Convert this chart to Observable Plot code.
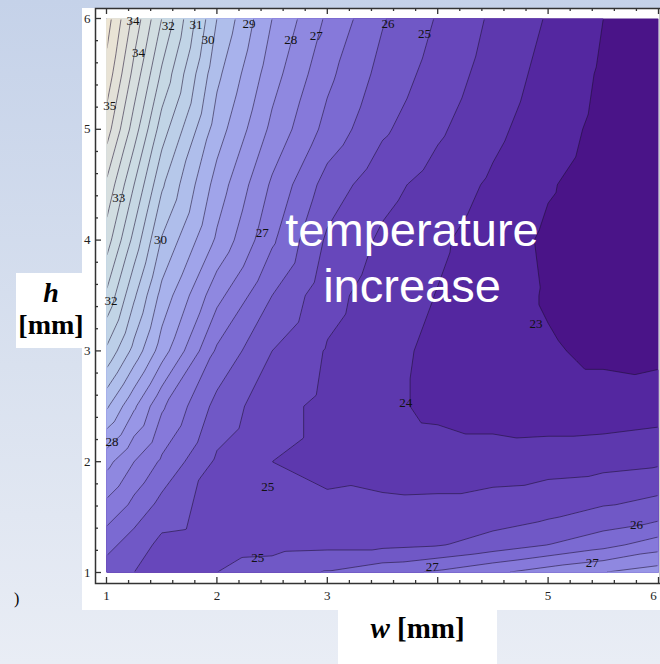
<!DOCTYPE html>
<html>
<head>
<meta charset="utf-8">
<script src="https://cdn.jsdelivr.net/npm/d3@7"></script>
<script src="https://cdn.jsdelivr.net/npm/@observablehq/plot@0.6"></script>
<style>
html, body { margin: 0; padding: 0; width: 660px; height: 664px; overflow: hidden; }
body { position: relative; background: linear-gradient(to bottom, #c5d2e9 0%, #d9e1ef 55%, #e9edf5 100%); }
#panel { position: absolute; left: 82px; top: 8px; width: 600px; height: 602px; background: #fff; }
#chart { position: absolute; left: 0; top: 0; width: 670px; }
#chart svg { max-width: none !important; }
#note { position: absolute; left: 262px; top: 202px; width: 300px; text-align: center; color: #fff;
  font-family: "Liberation Sans", Arial, sans-serif; font-size: 47px; line-height: 56px; }
#hlab { position: absolute; left: 16px; top: 273px; width: 66px; height: 75px; background: #fff; }
#hlab div { position: absolute; left: 0; width: 70px; text-align: center; font-family: "Liberation Serif", "Times New Roman", serif; font-weight: bold; font-size: 28px; color: #000; white-space: nowrap; }
#wlab { position: absolute; left: 338px; top: 610px; width: 159px; height: 54px; background: #fff; text-align: center;
  font-family: "Liberation Serif", "Times New Roman", serif; font-weight: bold; font-size: 29px; line-height: 36px; color: #000; }
#paren { position: absolute; left: 14px; top: 590px; font-family: "Liberation Serif", serif; font-size: 16px; color: #000; }
</style>
</head>
<body>
<div id="panel"></div>
<div id="chart"></div>
<div id="note">temperature<br>increase</div>
<div id="hlab"><div style="top:4px"><i>h</i></div><div style="top:36px">[mm]</div></div>
<div id="wlab"><i>w</i> [mm]</div>
<div id="paren">)</div>
<script>
// grid coordinates (mm)
const wValues = [1, 1.25, 1.5, 2, 2.5, 3, 3.5, 4, 4.5, 5, 5.5, 6];
const hValues = [6, 5.5, 5, 4.5, 4, 3.5, 3, 2.5, 2, 1.5, 1.25, 1];

// temperature, one row per h value
const tempH60  = [36.2, 34.5, 32.9, 29.9, 28.1, 26.8, 25.75, 25.05, 24.4, 23.85, 23.3, 23.0];
const tempH55  = [35.7, 33.9, 32.2, 29.45, 27.75, 26.45, 25.5, 24.85, 24.25, 23.7, 23.22, 22.95];
const tempH50  = [35.0, 33.2, 31.4, 29.0, 27.35, 26.1, 25.2, 24.6, 24.05, 23.55, 23.15, 22.92];
const tempH45  = [34.0, 32.3, 30.6, 28.45, 26.8, 25.45, 24.7, 24.25, 23.8, 23.35, 23.05, 22.92];
const tempH40  = [33.2, 31.5, 29.85, 28.0, 26.4, 25.0, 24.4, 24.0, 23.6, 23.2, 23.0, 22.95];
const tempH35  = [32.2, 30.6, 29.1, 27.1, 25.7, 24.7, 24.2, 23.88, 23.55, 23.25, 23.08, 23.02];
const tempH30  = [31.0, 29.7, 28.4, 26.2, 25.1, 24.45, 24.1, 23.75, 23.55, 23.35, 23.2, 23.15];
const tempH25  = [29.4, 28.2, 27.0, 25.5, 24.7, 24.35, 24.05, 23.75, 23.6, 23.5, 23.5, 23.6];
const tempH20  = [27.7, 26.9, 26.2, 25.0, 24.5, 24.35, 24.25, 24.2, 24.2, 24.24, 24.3, 24.4];
const tempH15  = [26.5, 25.9, 25.3, 24.9, 24.7, 24.65, 24.7, 24.72, 24.85, 25.05, 25.3, 25.55];
const tempH125 = [25.9, 25.4, 24.95, 24.85, 24.9, 24.95, 24.95, 25.05, 25.35, 25.7, 26.1, 26.6];
const tempH10  = [25.4, 25.1, 24.85, 25.1, 25.4, 25.75, 26.1, 26.4, 26.8, 27.2, 27.5, 27.8];
const tempRows = [tempH60, tempH55, tempH50, tempH45, tempH40, tempH35, tempH30, tempH25, tempH20, tempH15, tempH125, tempH10];

// contour levels and band colours
const levels = [22.7, 23.3, 23.9, 24.5, 25.1, 25.7, 26.3, 26.9, 27.5, 28.1, 28.7, 29.3, 29.9, 30.5, 31.1, 31.7, 32.3, 32.9, 33.5, 34.1, 34.7, 35.3, 35.9];
const bandColors = ["#4a1488", "#5427a0", "#5d38ae", "#6747bb", "#7058c6", "#7b6ad2", "#8679da", "#8f88e0", "#9896e6", "#a0a4ea", "#a8b2ec", "#afbeeb", "#b6c8ea", "#bccfe8", "#c1d4e6", "#c6d8e4", "#cbdbe3", "#d1dde1", "#d7dfdf", "#dde0dc", "#e3e1d8", "#e9e3d5", "#eee5d2"];

// contour labels as printed
const labelText = ["34", "32", "31", "30", "29", "28", "27", "26", "25", "34", "35", "33", "30", "27", "32", "23", "24", "28", "25", "25", "27", "27", "26"];
const labelW = [1.24, 1.56, 1.81, 1.92, 2.29, 2.67, 2.90, 3.55, 3.88, 1.29, 1.03, 1.11, 1.49, 2.41, 1.04, 4.89, 3.71, 1.05, 2.46, 2.37, 3.95, 5.40, 5.80];
const labelH = [5.98, 5.93, 5.94, 5.81, 5.95, 5.81, 5.84, 5.95, 5.86, 5.69, 5.21, 4.38, 4.00, 4.07, 3.45, 3.24, 2.53, 2.18, 1.77, 1.13, 1.05, 1.09, 1.43];

// ticks
const majorTicks = [1, 2, 3, 4, 5, 6];
const minorTicks = [1.2, 1.4, 1.6, 1.8, 2.2, 2.4, 2.6, 2.8, 3.2, 3.4, 3.6, 3.8, 4.2, 4.4, 4.6, 4.8, 5.2, 5.4, 5.6, 5.8];
const xTickLabels = [1, 2, 3, 5];
const xEdgeLabels = [6];
const yTickLabels = [1, 2, 3, 4, 5, 6];

const grid = hValues.flatMap((h, i) => wValues.map((w, j) => ({w, h, t: tempRows[i][j]})));
const labels = labelText.map((text, i) => ({text, w: labelW[i], h: labelH[i]}));

const W = 670, H = 610, ML = 95, MT = 8, MR = 10, MB = 27;
const frameW = W - ML - MR, frameH = H - MT - MB;
const majorLen = 6, minorLen = 3;
const tickStyle = {stroke: "#333", strokeWidth: 1.3};
const tickFont = {fontFamily: "Liberation Serif", fontSize: 13, fill: "#222"};
const intFmt = (d) => String(d);

const plot = Plot.plot({
  width: W,
  height: H,
  marginLeft: ML,
  marginTop: MT,
  marginRight: MR,
  marginBottom: MB,
  style: {background: "transparent", fontFamily: "Liberation Serif", fontSize: "13px", color: "#222", maxWidth: "none"},
  x: {domain: [1, 6], range: [106, 658], axis: null},
  y: {domain: [1, 6], range: [572, 18], axis: null},
  color: {type: "ordinal", domain: levels, range: bandColors},
  marks: [
    Plot.contour(grid, {x: "w", y: "h", fill: "t", interpolate: "barycentric", thresholds: levels,
      x1: 1, x2: 6, y1: 1, y2: 6, pixelSize: 1, stroke: "none"}),
    Plot.contour(grid, {x: "w", y: "h", value: "t", interpolate: "barycentric", thresholds: levels,
      x1: 1, x2: 6, y1: 1, y2: 6, pixelSize: 1, fill: "none", stroke: "#1c1030", strokeWidth: 0.8,
      strokeOpacity: 0.7}),
    Plot.text(labels, {x: "w", y: "h", text: "text", fill: "#111", fontFamily: "Liberation Serif", fontSize: 13}),
    Plot.frame({stroke: "#333", strokeWidth: 1.5}),
    // inward ticks: bottom, top, left
    Plot.tickX(majorTicks, {x: (d) => d, insetTop: frameH - majorLen, ...tickStyle}),
    Plot.tickX(minorTicks, {x: (d) => d, insetTop: frameH - minorLen, ...tickStyle}),
    Plot.tickX(majorTicks, {x: (d) => d, insetBottom: frameH - majorLen, ...tickStyle}),
    Plot.tickX(minorTicks, {x: (d) => d, insetBottom: frameH - minorLen, ...tickStyle}),
    Plot.tickY(majorTicks, {y: (d) => d, insetRight: frameW - majorLen, ...tickStyle}),
    Plot.tickY(minorTicks, {y: (d) => d, insetRight: frameW - minorLen, ...tickStyle}),
    Plot.axisY(yTickLabels, {anchor: "left", tickSize: 0, tickPadding: 5, tickFormat: intFmt, label: null, ...tickFont}),
    Plot.axisX(xTickLabels, {anchor: "bottom", tickSize: 0, tickPadding: 7, tickFormat: intFmt, label: null, ...tickFont}),
    Plot.axisX(xEdgeLabels, {anchor: "bottom", tickSize: 0, tickPadding: 7, tickFormat: intFmt, label: null, ...tickFont, dx: -5})
  ]
});

// clip the contour lines to the data rectangle so its border is not stroked
const xs = plot.scale("x"), ys = plot.scale("y");
const svg = d3.select(plot);
const cp = svg.insert("defs", ":first-child").append("clipPath").attr("id", "dataclip");
cp.append("rect")
  .attr("x", xs.apply(1) + 1).attr("y", ys.apply(6) + 1)
  .attr("width", xs.apply(6) - xs.apply(1) - 2).attr("height", ys.apply(1) - ys.apply(6) - 2);
const contourGroups = svg.selectAll('g[aria-label="contour"]').nodes();
if (contourGroups.length > 1) d3.select(contourGroups[1]).attr("clip-path", "url(#dataclip)");

document.getElementById("chart").appendChild(plot);
</script>
</body>
</html>
